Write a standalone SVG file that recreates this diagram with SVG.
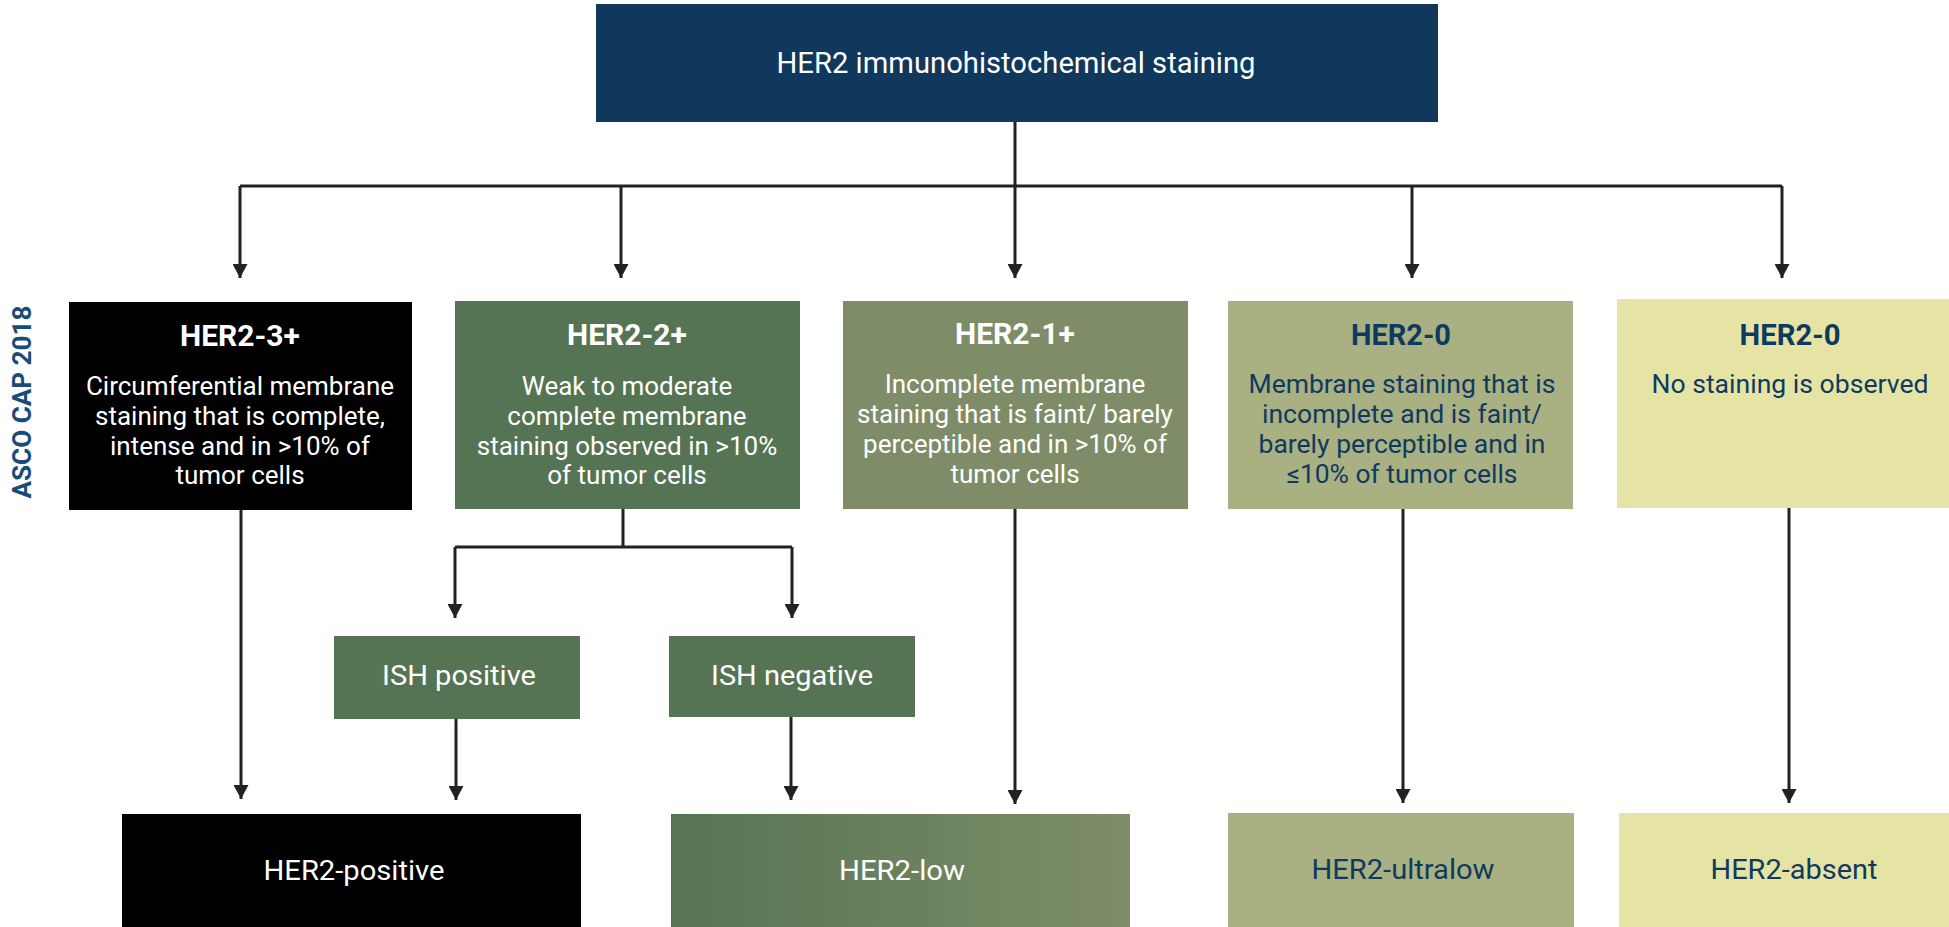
<svg xmlns="http://www.w3.org/2000/svg" width="1949" height="927" viewBox="0 0 1949 927">
<style>
.t{font-family:Roboto,"Liberation Sans",sans-serif;text-anchor:middle}
.w{fill:#ffffff}
.n{fill:#0f3a5f}
.ttl{font-size:30px;font-weight:bold}
.body{font-size:26px}
.lbl{font-size:28px}
.conn{fill:none;stroke:#222222;stroke-width:3}
</style>
<defs>
<marker id="ah" viewBox="0 0 14 15" refX="14" refY="7.5" markerWidth="14" markerHeight="15" markerUnits="userSpaceOnUse" orient="auto">
<path d="M0,0 L14,7.5 L0,15 z" fill="#222222"/>
</marker>
<linearGradient id="lowg" x1="0" y1="0" x2="1" y2="0">
<stop offset="0" stop-color="#557453"/>
<stop offset="1" stop-color="#7e8d68"/>
</linearGradient>
</defs>
<rect width="1949" height="927" fill="#ffffff"/>

<g id="connectors">
<path class="conn" d="M1015,122 V186 M240,186 H1782"/>
<path class="conn" d="M1015,186 V278" marker-end="url(#ah)"/>
<path class="conn" d="M240,186 V278" marker-end="url(#ah)"/>
<path class="conn" d="M621,186 V278" marker-end="url(#ah)"/>
<path class="conn" d="M1412,186 V278" marker-end="url(#ah)"/>
<path class="conn" d="M1782,186 V278" marker-end="url(#ah)"/>
<path class="conn" d="M623,509 V547 M455,547 H792"/>
<path class="conn" d="M455,547 V618" marker-end="url(#ah)"/>
<path class="conn" d="M792,547 V618" marker-end="url(#ah)"/>
<path class="conn" d="M456,719 V800" marker-end="url(#ah)"/>
<path class="conn" d="M791,717 V800" marker-end="url(#ah)"/>
<path class="conn" d="M241,510 V799" marker-end="url(#ah)"/>
<path class="conn" d="M1015,509 V804" marker-end="url(#ah)"/>
<path class="conn" d="M1403,509 V803" marker-end="url(#ah)"/>
<path class="conn" d="M1789,508 V803" marker-end="url(#ah)"/>
</g>

<g id="asco">
<text class="t" transform="translate(31,402) rotate(-90)" font-size="25" font-weight="bold" fill="#1b4b78" textLength="193" lengthAdjust="spacingAndGlyphs">ASCO CAP 2018</text>
</g>

<g id="root">
<rect x="596" y="4" width="842" height="118" fill="#0f385c"/>
<text class="t w" x="1016" y="73" font-size="29" textLength="479" lengthAdjust="spacingAndGlyphs">HER2 immunohistochemical staining</text>
</g>

<g id="her2-3">
<rect x="69" y="302" width="343" height="208" fill="#000000"/>
<text class="t w ttl" x="240" y="346">HER2-3+</text>
<text class="t w body" x="240" y="395">Circumferential membrane</text>
<text class="t w body" x="240" y="425">staining that is complete,</text>
<text class="t w body" x="240" y="455">intense and in &gt;10% of</text>
<text class="t w body" x="240" y="484">tumor cells</text>
</g>

<g id="her2-2">
<rect x="455" y="301" width="345" height="208" fill="#557453"/>
<text class="t w ttl" x="627" y="345">HER2-2+</text>
<text class="t w body" x="627" y="395">Weak to moderate</text>
<text class="t w body" x="627" y="425">complete membrane</text>
<text class="t w body" x="627" y="455">staining observed in &gt;10%</text>
<text class="t w body" x="627" y="484">of tumor cells</text>
</g>

<g id="her2-1">
<rect x="843" y="301" width="345" height="208" fill="#7e8d68"/>
<text class="t w ttl" x="1015" y="344">HER2-1+</text>
<text class="t w body" x="1015" y="393">Incomplete membrane</text>
<text class="t w body" x="1015" y="423">staining that is faint/ barely</text>
<text class="t w body" x="1015" y="453">perceptible and in &gt;10% of</text>
<text class="t w body" x="1015" y="483">tumor cells</text>
</g>

<g id="her2-0a">
<rect x="1228" y="301" width="345" height="208" fill="#a9b082"/>
<text class="t n ttl" x="1401" y="345" textLength="100" lengthAdjust="spacingAndGlyphs">HER2-0</text>
<text class="t n body" x="1402" y="393" textLength="307" lengthAdjust="spacingAndGlyphs">Membrane staining that is</text>
<text class="t n body" x="1402" y="423" textLength="280" lengthAdjust="spacingAndGlyphs">incomplete and is faint/</text>
<text class="t n body" x="1402" y="453" textLength="287" lengthAdjust="spacingAndGlyphs">barely perceptible and in</text>
<text class="t n body" x="1402" y="483" textLength="231" lengthAdjust="spacingAndGlyphs">≤10% of tumor cells</text>
</g>

<g id="her2-0b">
<rect x="1617" y="299" width="346" height="209" fill="#e5e4a5"/>
<text class="t n ttl" x="1790" y="345" textLength="101" lengthAdjust="spacingAndGlyphs">HER2-0</text>
<text class="t n body" x="1790" y="393" textLength="277" lengthAdjust="spacingAndGlyphs">No staining is observed</text>
</g>

<g id="ish-pos">
<rect x="334" y="636" width="246" height="83" fill="#557453"/>
<text class="t w lbl" x="459" y="685" textLength="154" lengthAdjust="spacingAndGlyphs">ISH positive</text>
</g>

<g id="ish-neg">
<rect x="669" y="636" width="246" height="81" fill="#557453"/>
<text class="t w lbl" x="792" y="685" textLength="162" lengthAdjust="spacingAndGlyphs">ISH negative</text>
</g>

<g id="positive">
<rect x="122" y="814" width="459" height="113" fill="#000000"/>
<text class="t w lbl" x="354" y="880" textLength="181" lengthAdjust="spacingAndGlyphs">HER2-positive</text>
</g>

<g id="low">
<rect x="671" y="814" width="459" height="113" fill="url(#lowg)"/>
<text class="t w lbl" x="902" y="880" textLength="126" lengthAdjust="spacingAndGlyphs">HER2-low</text>
</g>

<g id="ultralow">
<rect x="1228" y="813" width="346" height="114" fill="#a9b082"/>
<text class="t n lbl" x="1403" y="879" textLength="183" lengthAdjust="spacingAndGlyphs">HER2-ultralow</text>
</g>

<g id="absent">
<rect x="1619" y="813" width="346" height="114" fill="#e5e4a5"/>
<text class="t n lbl" x="1794" y="879" textLength="167" lengthAdjust="spacingAndGlyphs">HER2-absent</text>
</g>
</svg>
